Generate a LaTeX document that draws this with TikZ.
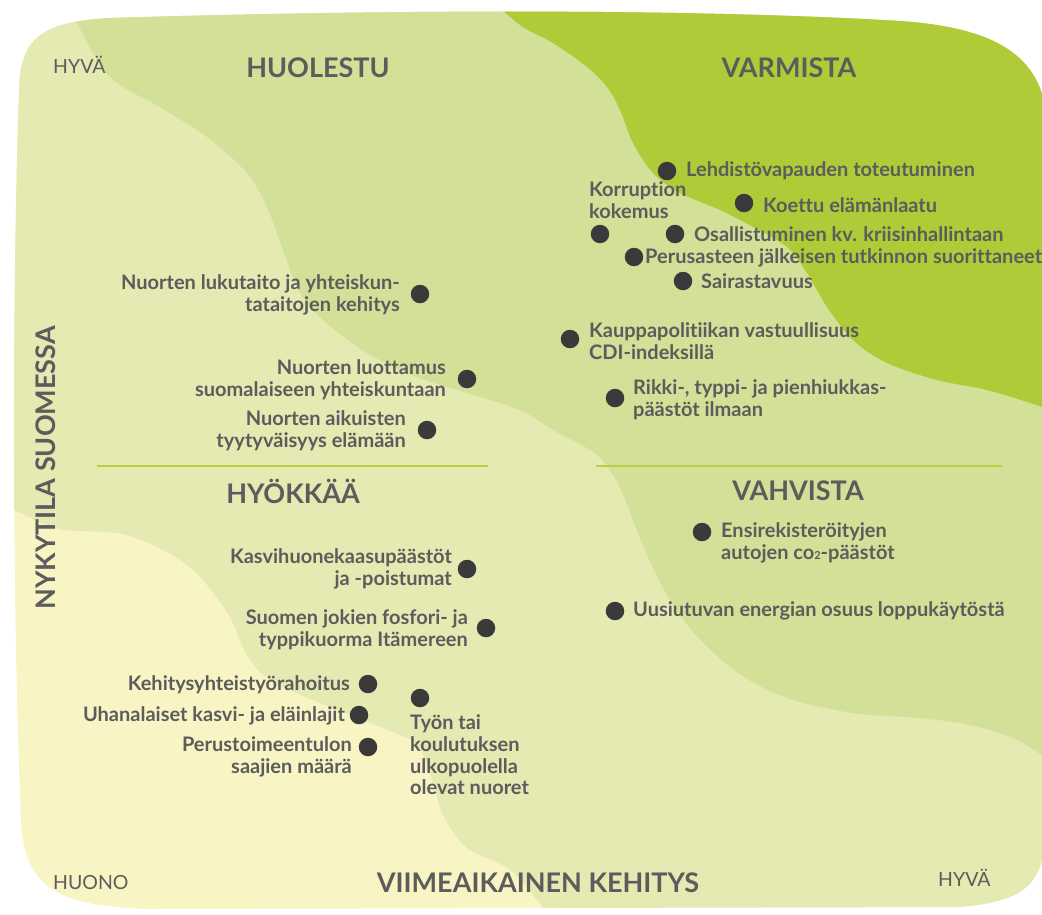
\documentclass[tikz,border=0pt]{standalone}
\usepackage{fontspec}
\setmainfont{Lato}[Ligatures=NoCommon]
\definecolor{cYel}{HTML}{F8F4C4}
\definecolor{cLt}{HTML}{E4EAB1}
\definecolor{cMid}{HTML}{D3E097}
\definecolor{cBr}{HTML}{B0CB38}
\definecolor{cLine}{HTML}{B8D040}
\definecolor{cTxt}{HTML}{5C5C5C}
\definecolor{cDot}{HTML}{3A3A3A}
\tikzset{
  dot/.style={circle,fill=cDot,inner sep=0pt,minimum size=18.5pt},
  lbl/.style={font=\bfseries\fontsize{20}{21.7}\selectfont,text=cTxt,inner sep=0pt},
  lblL/.style={lbl,anchor=west,align=left},
  lblR/.style={lbl,anchor=east,align=right},
  ttl/.style={font=\bfseries\fontsize{27}{30}\selectfont,text=cTxt,inner sep=0pt},
  corner/.style={font=\fontsize{19.5}{22}\selectfont,text=cTxt,inner sep=0pt},
  divider/.style={draw=cLine,line width=2.2pt}
}
\begin{document}
\begin{tikzpicture}[x=1pt,y=-1pt]
\useasboundingbox (0,0) rectangle (1042,914);
\begin{scope}
\clip (19,90) .. controls (20,35) and (45,22) .. (110,18)
  .. controls (400,9) and (700,9) .. (900,21)
  .. controls (985,27) and (1040,50) .. (1046,115)
  -- (1046,835) .. controls (1042,885) and (1025,901) .. (960,907)
  -- (150,909) .. controls (60,906) and (24,890) .. (21,820)
  .. controls (12,600) and (12,300) .. (19,90) -- cycle;
\fill[cYel] (-10,-10) rectangle (1060,930);
\fill[cLt] plot[smooth,tension=0.55] coordinates {(-20,503) (13,510) (60,529) (127,535) (187,565) (227,612) (247,655) (273,682) (333,708) (383,728) (417,745) (433,782) (443,815) (467,848) (510,870) (548,914) (565,940)}
  -- (1100,940) -- (1100,-30) -- (-30,-30) -- cycle;
\fill[cMid] plot[smooth,tension=0.55] coordinates {(62,-10) (77,23) (110,77) (160,107) (207,137) (247,173) (267,207) (283,250) (300,293) (323,320) (367,353) (417,377) (467,393) (520,410) (553,430) (597,455) (620,488) (640,538) (663,588) (693,632) (737,672) (787,698) (853,713) (920,718) (970,725) (1013,738) (1042,755) (1070,775)}
  -- (1100,775) -- (1100,-30) -- (62,-30) -- cycle;
\fill[cBr] plot[smooth,tension=0.55] coordinates {(480,-10) (520,25) (553,43) (587,67) (607,87) (620,110) (633,143) (653,173) (680,193) (720,210) (753,227) (787,247) (807,273) (827,307) (853,340) (887,363) (937,380) (987,390) (1042,407) (1070,420)}
  -- (1100,420) -- (1100,-30) -- (480,-30) -- cycle;
\end{scope}

% dividers
\coordinate (l1) at (97,466); \coordinate (l2) at (488,466);
\coordinate (r1) at (596,466); \coordinate (r2) at (1002,466);
\draw[divider] (l1) -- (l2);
\draw[divider] (r1) -- (r2);

% titles
\node[ttl] (huolestu) at (318,68) {HUOLESTU};
\node[ttl] (varmista) at (789,68) {VARMISTA};
\node[ttl] (hyokkaa) at (293,491) {HYÖKKÄÄ};
\node[ttl] (vahvista) at (798,491) {VAHVISTA};
\node[ttl] (xaxis) at (538,883) {VIIMEAIKAINEN KEHITYS};
\node[ttl,rotate=90] (yaxis) at (46,468) {NYKYTILA SUOMESSA};
\node[corner,anchor=west] (hyva1) at (53,65) {HYVÄ};
\node[corner,anchor=west] (huono) at (53,883) {HUONO};
\node[corner,anchor=west] (hyva2) at (938,878) {HYVÄ};

% upper right
\node[dot] (d1) at (667,171) {};
\node[lblL] (t1) at (686,171) {Lehdistövapauden toteutuminen};
\node[dot] (d2) at (744,203) {};
\node[lblL] (t2) at (763,205) {Koettu elämänlaatu};
\node[dot] (d3) at (600,234) {};
\node[lblL] (t3) at (589,200) {Korruption\\kokemus};
\node[dot] (d4) at (675,234) {};
\node[lblL] (t4) at (694,234) {Osallistuminen kv. kriisinhallintaan};
\node[dot] (d5) at (634,257) {};
\node[lblL] (t5) at (645,258) {Perusasteen jälkeisen tutkinnon suorittaneet};
\node[dot] (d6) at (683,281) {};
\node[lblL] (t6) at (701,281) {Sairastavuus};
\node[dot] (d7) at (570,339) {};
\node[lblL] (t7) at (589,341) {Kauppapolitiikan vastuullisuus\\CDI-indeksillä};
\node[dot] (d8) at (615,398) {};
\node[lblL] (t8) at (633,400) {Rikki-, typpi- ja pienhiukkas-\\päästöt ilmaan};

% upper left
\node[dot] (d9) at (420,294) {};
\node[lblR] (t9) at (400,295) {Nuorten lukutaito ja yhteiskun-\\tataitojen kehitys};
\node[dot] (d10) at (467,379) {};
\node[lblR] (t10) at (446,380) {Nuorten luottamus\\suomalaiseen yhteiskuntaan};
\node[dot] (d11) at (427,430) {};
\node[lblR] (t11) at (406,431) {Nuorten aikuisten\\tyytyväisyys elämään};

% lower left
\node[dot] (d12) at (467,569) {};
\node[lblR] (t12) at (452,569) {Kasvihuonekaasupäästöt\\ja -poistumat};
\node[dot] (d13) at (486,628) {};
\node[lblR] (t13) at (468,630) {Suomen jokien fosfori- ja\\typpikuorma Itämereen};
\node[dot] (d14) at (368,684) {};
\node[lblR] (t14) at (350,685) {Kehitysyhteistyörahoitus};
\node[dot] (d15) at (359,715) {};
\node[lblR] (t15) at (345,716) {Uhanalaiset kasvi- ja eläinlajit};
\node[dot] (d16) at (368,747) {};
\node[lblR] (t16) at (352,757) {Perustoimeentulon\\saajien määrä};
\node[dot] (d17) at (420,698) {};
\node[lblL] (t17) at (410,755) {Työn tai\\koulutuksen\\ulkopuolella\\olevat nuoret};

% lower right
\node[dot] (d18) at (702,532) {};
\node[lblL] (t18) at (721,543) {Ensirekisteröityjen\\autojen co\raisebox{-0.5pt}{\fontsize{11}{11}\selectfont 2}-päästöt};
\node[dot] (d19) at (615,611) {};
\node[lblL] (t19) at (633,611) {Uusiutuvan energian osuus loppukäytöstä};
\end{tikzpicture}
\end{document}
